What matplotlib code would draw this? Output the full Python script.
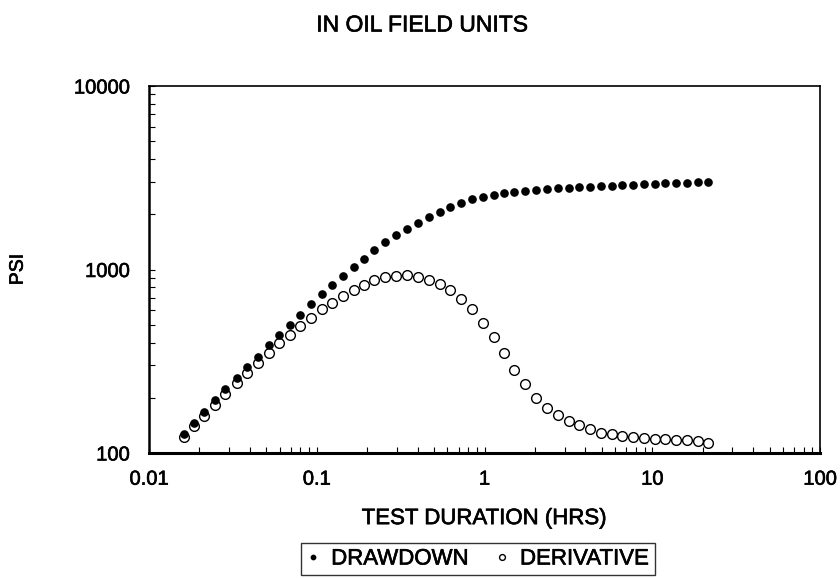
import matplotlib
matplotlib.use("Agg")
import matplotlib.pyplot as plt
import matplotlib.patheffects as pe
from matplotlib.ticker import LogLocator, FixedLocator, FixedFormatter, NullFormatter

plt.rcParams['font.family'] = ['Liberation Sans', 'DejaVu Sans']

# test duration, hrs
hours = [0.0162, 0.0185, 0.0214, 0.0246, 0.0285, 0.0333, 0.0385, 0.0445, 0.0516, 0.0595,
         0.0689, 0.0791, 0.0930, 0.1076, 0.1235, 0.1431, 0.1666, 0.1911, 0.2203, 0.2543,
         0.2985, 0.3473, 0.4009, 0.4638, 0.5398, 0.6256, 0.7253, 0.8395, 0.9768, 1.132,
         1.305, 1.506, 1.753, 2.028, 2.361, 2.736, 3.184, 3.670, 4.253, 4.930,
         5.737, 6.640, 7.694, 8.919, 10.32, 11.96, 13.87, 16.05, 18.68, 21.64]

# pressure drawdown, psi
drawdown = [127, 146, 168, 194, 223, 255, 294, 335, 386, 438,
            500, 565, 646, 735, 823, 922, 1036, 1146, 1272, 1406,
            1542, 1655, 1800, 1941, 2067, 2200, 2313, 2412, 2494, 2557,
            2601, 2656, 2679, 2713, 2746, 2769, 2793, 2804, 2816, 2839,
            2863, 2876, 2900, 2924, 2937, 2949, 2961, 2974, 2985, 3011]

# pressure derivative, psi
derivative = [122, 140, 160, 183, 210, 240, 272, 308, 349, 396,
              441, 494, 542, 607, 660, 717, 773, 823, 877, 910,
              922, 929, 914, 877, 830, 773, 693, 607, 509, 427,
              349, 283, 237, 199, 175, 161, 150, 142, 135, 129,
              127, 124, 123, 121, 119, 119, 118, 118, 116, 113]

xticks = [0.01, 0.1, 1, 10, 100]
xtick_labels = ["0.01", "0.1", "1", "10", "100"]
yticks = [100, 1000, 10000]
ytick_labels = ["100", "1000", "10000"]

# slightly heavier strokes on all text
heavy = [pe.withStroke(linewidth=0.45, foreground="black")]

W, H = 840, 578
fig = plt.figure(figsize=(W / 100, H / 100), dpi=100)
ax = fig.add_axes([149 / W, 1 - 453 / H, (820 - 149) / W, (453 - 86) / H])

ax.plot(hours, derivative, linestyle="none", marker="o", markersize=7,
        markerfacecolor="white", markeredgecolor="black", markeredgewidth=1.0,
        label="DERIVATIVE", zorder=2)
ax.plot(hours, drawdown, linestyle="none", marker="o", markersize=5.2,
        color="black", label="DRAWDOWN", zorder=3)

ax.set_xscale("log")
ax.set_yscale("log")
ax.set_xlim(0.01, 100)
ax.set_ylim(100, 10000)

ax.xaxis.set_major_locator(FixedLocator(xticks))
ax.xaxis.set_major_formatter(FixedFormatter(xtick_labels))
ax.yaxis.set_major_locator(FixedLocator(yticks))
ax.yaxis.set_major_formatter(FixedFormatter(ytick_labels))
ax.xaxis.set_minor_locator(LogLocator(base=10, subs=range(2, 10)))
ax.yaxis.set_minor_locator(LogLocator(base=10, subs=range(2, 10)))
ax.xaxis.set_minor_formatter(NullFormatter())
ax.yaxis.set_minor_formatter(NullFormatter())

ax.tick_params(which="both", direction="in", top=False, right=False,
               length=4, width=0.8, labelsize=14.5)
ax.tick_params(axis="x", which="major", pad=12)
ax.tick_params(axis="y", which="major", pad=14)
for lbl in ax.get_xticklabels() + ax.get_yticklabels():
    lbl.set_path_effects(heavy)

ax.spines["left"].set_linewidth(1.8)
ax.spines["bottom"].set_linewidth(2.2)
ax.spines["top"].set_linewidth(1.2)
ax.spines["right"].set_linewidth(1.2)

ax.set_xlabel("TEST DURATION (HRS)", fontsize=16, labelpad=14, path_effects=heavy)
ax.set_ylabel("PSI", fontsize=14, labelpad=34, path_effects=heavy)

fig.text(422 / W, 1 - 25 / H, "IN OIL FIELD UNITS", ha="center", va="center",
         fontsize=16.5, path_effects=heavy)

handles, labels = ax.get_legend_handles_labels()
leg = ax.legend(handles[::-1], labels[::-1], loc="center", ncol=2,
                bbox_to_anchor=(478 / W, 1 - 559 / H), bbox_transform=fig.transFigure,
                fontsize=16, frameon=True, fancybox=False, markerscale=0.6,
                handlelength=0.6, handletextpad=0.5, columnspacing=1.2,
                borderpad=0.25, borderaxespad=0)
leg.get_frame().set_edgecolor("black")
leg.get_frame().set_linewidth(1.0)
for t in leg.get_texts():
    t.set_path_effects(heavy)

fig.savefig("out.png", dpi=100)
